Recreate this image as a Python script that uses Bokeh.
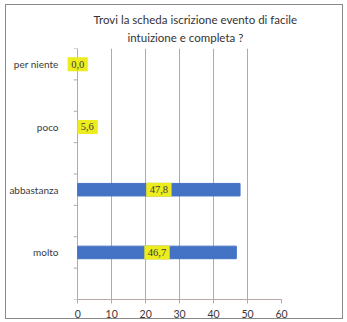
import math
from bokeh.plotting import figure
from bokeh.models import Range1d, FixedTicker, LabelSet, ColumnDataSource, Title
from bokeh.embed import file_html
from bokeh.resources import INLINE

# survey answers and their percentages
categories = ["per niente", "poco", "abbastanza", "molto"]
percentages = [0.0, 5.6, 47.8, 46.7]
x_ticks = [0, 10, 20, 30, 40, 50, 60]
title_lines = ["Trovi la scheda iscrizione evento di facile", "intuizione e completa ?"]

FONT = "Lato"
GRID = "#b5a8a5"
TEXT = "#3a3a3a"
TAG = "#ecec1e"

# each answer sits in the middle of a two-unit slot
y_pos = [2 * i + 0.5 for i in range(len(categories))]
slot_edges = list(range(2 * len(categories) + 1))
src = ColumnDataSource(dict(
    y=y_pos,
    pct=percentages,
    mid=[v / 2 for v in percentages],
    txt=[f"{v:.1f}".replace(".", ",") for v in percentages],
))

# the x range starts a little below zero so the tag at zero stays inside the frame
p = figure(width=338, height=315, output_backend="svg", toolbar_location=None,
           x_range=Range1d(-3.3, 60), y_range=Range1d(8, 0),
           min_border_left=59, min_border_right=63, min_border_top=43, min_border_bottom=19)
p.title = None
p.outline_line_color = None
p.background_fill_color = "white"
p.border_fill_color = "white"
# thin grey frame around the whole chart
p.styles = {"border": "1px solid #8a8a8a", "margin-left": "5px", "margin-top": "4px"}

# two title lines, the lower one added first (closest to the plot)
for line, off, gap in zip(reversed(title_lines), [61, 27], [9, -2]):
    p.add_layout(Title(text=line, align="left", offset=off, standoff=gap,
                       text_font=FONT, text_font_size="11.5px",
                       text_font_style="normal", text_color="#333333"), "above")

p.hbar(y="y", right="pct", left=0, height=0.4, color="#4472c4", source=src)

# short slot ticks left of the zero line
p.ray(x=0, y=slot_edges, length=4, length_units="screen", angle=math.pi,
      line_color=GRID, line_width=1)

# value tags: a thick square-cornered border in the fill colour widens the yellow box
p.add_layout(LabelSet(x="mid", y="y", text="txt", source=src,
                      text_align="center", text_baseline="middle",
                      text_font=FONT, text_font_size="10.5px", text_color=TEXT,
                      background_fill_color=TAG,
                      border_line_color=TAG, border_line_width=7,
                      border_line_join="miter"))

# x axis, its line running from 0 to 60 only
p.xaxis.ticker = FixedTicker(ticks=x_ticks)
p.xaxis.bounds = (0, 60)
p.xaxis.axis_line_color = GRID
p.xaxis.major_tick_line_color = GRID
p.xaxis.major_tick_out = 4
p.xaxis.major_tick_in = 0
p.xaxis.minor_tick_line_color = None
p.xaxis.major_label_text_font = FONT
p.xaxis.major_label_text_font_size = "10.5px"
p.xaxis.major_label_text_color = TEXT
p.xaxis.major_label_standoff = 6

# y axis: only the answer labels; the vertical line is the grid line at zero
p.yaxis.ticker = FixedTicker(ticks=y_pos)
p.yaxis.major_label_overrides = {y: c for y, c in zip(y_pos, categories)}
p.yaxis.axis_line_color = None
p.yaxis.major_tick_line_color = None
p.yaxis.minor_tick_line_color = None
p.yaxis.major_label_text_font = FONT
p.yaxis.major_label_text_font_size = "10px"
p.yaxis.major_label_text_color = TEXT
p.yaxis.major_label_standoff = 2

p.xgrid.grid_line_color = GRID
p.xgrid.ticker = FixedTicker(ticks=x_ticks)
p.ygrid.grid_line_color = None

open("out.html", "w").write(file_html(p, INLINE))
